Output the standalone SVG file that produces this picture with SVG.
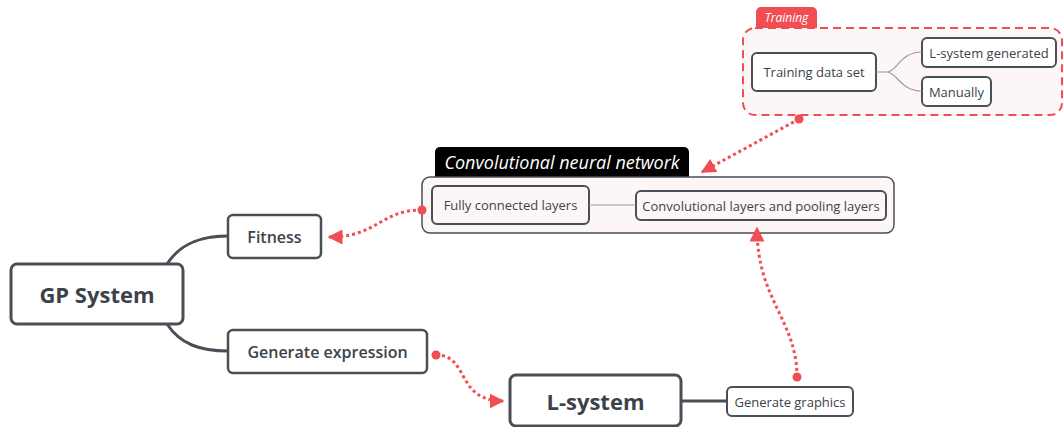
<svg xmlns="http://www.w3.org/2000/svg" width="1063" height="427" viewBox="0 0 1063 427">
<style>
.node{fill:#fff;stroke:#4a4f57;stroke-width:2.5}
.big{fill:#fff;stroke:#4a4f57;stroke-width:3}
.sub{fill:#fff;stroke:#4a4f57;stroke-width:2}
.t{font-family:"Open Sans","Liberation Sans",sans-serif;fill:#3d424a;text-anchor:middle;dominant-baseline:central}
.br{fill:none;stroke:#4a4f57;stroke-width:3}
.thin{fill:none;stroke:#999;stroke-width:1.2}
.rel{fill:none;stroke:#f04e52;stroke-width:3;stroke-dasharray:3 3}
</style>
<defs>
<marker id="arr" viewBox="0 0 10 10" refX="9" refY="5" markerWidth="5" markerHeight="5" orient="auto" markerUnits="strokeWidth">
<path d="M0,0L10,5L0,10z" fill="#f04e52"/>
</marker>
</defs>
<g id="training">
<rect x="743" y="28" width="319" height="87" rx="12" fill="#fdf6f6" stroke="#f04e52" stroke-width="2" stroke-dasharray="8 5"/>
<path d="M756,28V12a5,5 0 0 1 5,-5H812a5,5 0 0 1 5,5V28z" fill="#f04e52"/>
<text x="786.5" y="17.5" class="t" style="fill:#fff;font-style:italic;font-size:12px">Training</text>
</g>
<g id="training-data-set">
<rect x="752" y="53" width="124" height="38" rx="5" class="sub"/>
<text x="814" y="72" class="t" font-size="13">Training data set</text>
</g>
<g id="lsys-generated">
<rect x="922" y="38" width="134" height="29" rx="5" class="sub"/>
<text x="989" y="52.5" class="t" font-size="13">L-system generated</text>
</g>
<g id="manually">
<rect x="922" y="77" width="69" height="29" rx="5" class="sub"/>
<text x="956.5" y="91.5" class="t" font-size="13">Manually</text>
</g>
<g id="cnn">
<path d="M435,177V152a5,5 0 0 1 5,-5H684a5,5 0 0 1 5,5V177z" fill="#000"/>
<text x="562" y="162" class="t" style="fill:#fff;font-style:italic;font-size:18px">Convolutional neural network</text>
<rect x="422" y="177" width="472" height="56" rx="8" fill="#fdf6f6" stroke="#4a4f57" stroke-width="1.5"/>
</g>
<g id="fully-connected">
<rect x="432" y="186" width="157" height="38" rx="5" fill="#fdf6f6" stroke="#4a4f57" stroke-width="2"/>
<text x="510.5" y="205" class="t" font-size="13">Fully connected layers</text>
</g>
<g id="conv-layers">
<rect x="636" y="191" width="250" height="29" rx="5" fill="#fdf6f6" stroke="#4a4f57" stroke-width="2"/>
<text x="761" y="205.5" class="t" font-size="13">Convolutional layers and pooling layers</text>
</g>
<g id="gp-system">
<rect x="11" y="264" width="172" height="60" rx="6" class="big"/>
<text x="97" y="294" class="t" font-size="22" font-weight="bold">GP System</text>
</g>
<g id="fitness">
<rect x="228" y="215" width="93" height="43" rx="5" class="node"/>
<text x="274.5" y="236.5" class="t" font-size="16" font-weight="600">Fitness</text>
</g>
<g id="generate-expression">
<rect x="228" y="330" width="199" height="43" rx="5" class="node"/>
<text x="327.5" y="351.5" class="t" font-size="16" font-weight="600">Generate expression</text>
</g>
<g id="l-system">
<rect x="510" y="375" width="171" height="51" rx="6" class="big"/>
<text x="595.5" y="400.5" class="t" font-size="22" font-weight="bold">L-system</text>
</g>
<g id="generate-graphics">
<rect x="727" y="387" width="126" height="29" rx="5" class="sub"/>
<text x="790" y="401.5" class="t" font-size="13">Generate graphics</text>
</g>
<g id="connectors">
<path class="br" d="M167,264C180,244 200,236 228,236"/>
<path class="br" d="M167,324C180,344 200,351 228,351"/>
<path class="br" d="M681,401H727"/>
<path class="thin" d="M589,205H636"/>
<path class="thin" d="M876,72H887C897,72 900,52 922,52M887,72C897,72 900,91 922,91"/>
<path class="rel" d="M799,119L702,172" marker-end="url(#arr)"/>
<circle cx="799" cy="119" r="4.5" fill="#f04e52"/>
<path class="rel" d="M422,210C380,210 378,237 329,237" marker-end="url(#arr)"/>
<circle cx="422" cy="210" r="4.5" fill="#f04e52"/>
<path class="rel" d="M436,355C470,355 455,401 503,401" marker-end="url(#arr)"/>
<circle cx="436" cy="355" r="4.5" fill="#f04e52"/>
<path class="rel" d="M797,377C797,320 757,300 757,228" marker-end="url(#arr)"/>
<circle cx="797" cy="377" r="4.5" fill="#f04e52"/>
</g>
</svg>
